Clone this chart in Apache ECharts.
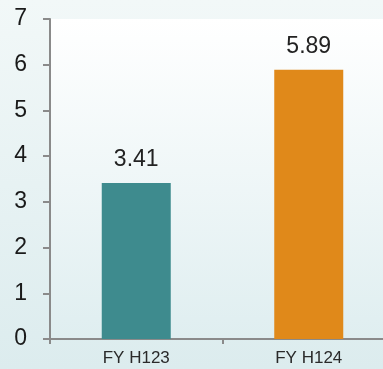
<!DOCTYPE html>
<html>
<head>
<meta charset="utf-8">
<script src="https://cdn.jsdelivr.net/npm/echarts@6/dist/echarts.min.js"></script>
<style>
html,body{margin:0;padding:0;}
#c{width:383px;height:369px;}
</style>
</head>
<body>
<div id="c"></div>
<script>
const categories = ["FY H123", "FY H124"];
const values = [3.41, 5.89];
const barColors = ["#3e8b8e", "#e0891a"];
const yTicks = [0, 1, 2, 3, 4, 5, 6, 7];

const chart = echarts.init(document.getElementById('c'), null, {renderer: 'canvas'});
const font = "'Liberation Sans', Arial, sans-serif";
chart.setOption({
  animation: false,
  backgroundColor: new echarts.graphic.LinearGradient(0, 0, 0, 1, [
    {offset: 0, color: '#f2f8f8'},
    {offset: 1, color: '#dcecee'}
  ]),
  grid: {
    left: 50, top: 19, bottom: 30, right: -12,
    outerBoundsMode: 'none',
    containLabel: false,
    show: true, borderWidth: 0,
    backgroundColor: new echarts.graphic.LinearGradient(0, 0, 0, 1, [
      {offset: 0, color: '#ffffff'},
      {offset: 1, color: '#dfeef0'}
    ])
  },
  xAxis: {
    type: 'category',
    data: categories,
    axisLine: {lineStyle: {color: '#8a8a8a', width: 2}},
    axisTick: {show: true, length: 5, lineStyle: {color: '#8a8a8a', width: 2}},
    axisLabel: {fontFamily: font, fontSize: 17, color: '#2a2a2a', margin: 11}
  },
  yAxis: {
    type: 'value',
    min: yTicks[0], max: yTicks[yTicks.length - 1], interval: 1,
    axisLine: {show: true, lineStyle: {color: '#8a8a8a', width: 2}},
    axisTick: {show: true, length: 7, lineStyle: {color: '#8a8a8a', width: 2}},
    splitLine: {show: false},
    axisLabel: {fontFamily: font, fontSize: 23, color: '#1a1a1a', margin: 23}
  },
  series: [{
    type: 'bar',
    barWidth: '40%',
    data: values.map((v, i) => ({value: v, itemStyle: {color: barColors[i]}})),
    label: {
      show: true, position: 'top', distance: 12,
      fontFamily: font, fontSize: 23, color: '#222222',
      formatter: p => p.value.toFixed(2)
    }
  }]
});
</script>
</body>
</html>
